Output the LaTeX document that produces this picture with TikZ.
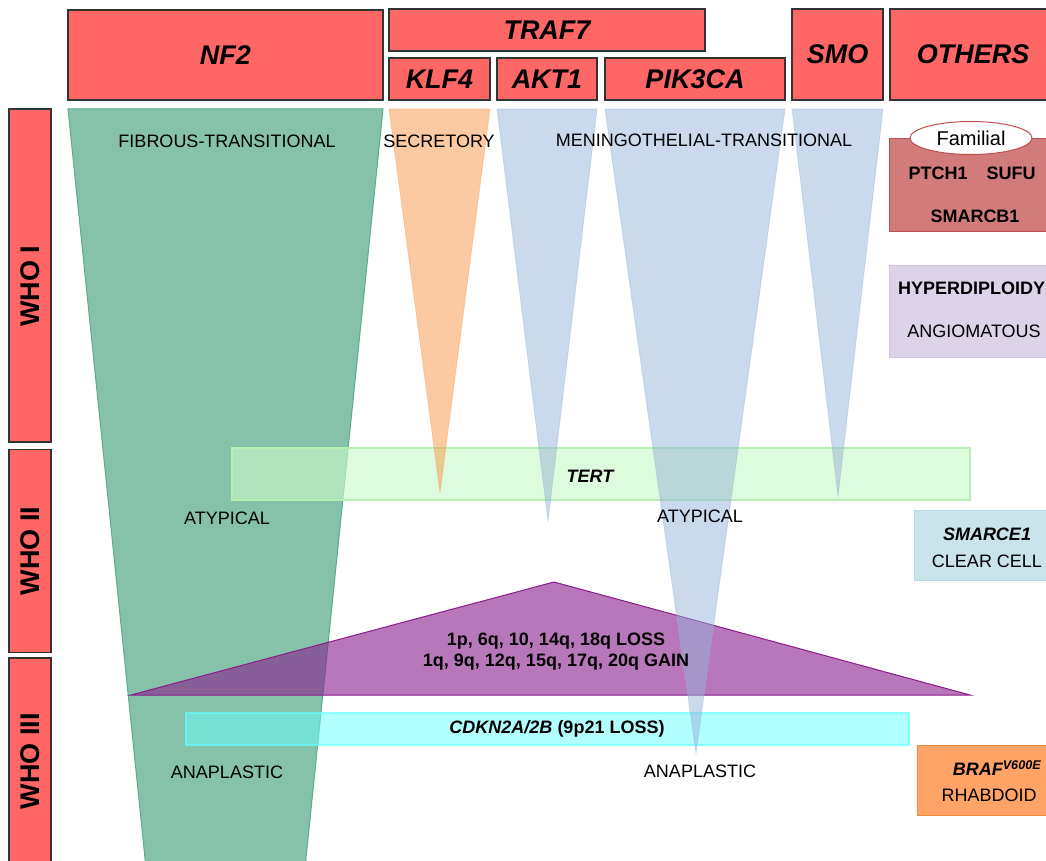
\documentclass[tikz,border=0pt]{standalone}
\usepackage{fontspec}
\setmainfont{Liberation Sans}
\usetikzlibrary{shapes.geometric}

\definecolor{genered}{HTML}{FF6666}
\definecolor{fibgreen}{HTML}{86C1AA}
\definecolor{fibline}{HTML}{5AAE8C}
\definecolor{tertfill}{HTML}{C9FAC9}
\definecolor{tertline}{HTML}{B4F0B4}
\definecolor{cnvfill}{HTML}{891C8C}
\definecolor{cnvline}{HTML}{8B1A8B}
\definecolor{cdkfill}{HTML}{66FFFF}
\definecolor{klffill}{HTML}{F79646}
\definecolor{aktfill}{HTML}{95B3D7}
\definecolor{famfill}{HTML}{D27B7B}
\definecolor{famline}{HTML}{C0504D}
\definecolor{hypfill}{HTML}{DCD3E8}
\definecolor{hypline}{HTML}{CEC4DE}
\definecolor{clearfill}{HTML}{C8E3EA}
\definecolor{clearline}{HTML}{B8DAE4}
\definecolor{braffill}{HTML}{FFA366}
\definecolor{brafline}{HTML}{F08A3C}

\tikzset{
  gene/.style={draw=black!80, fill=genered, line width=1.2pt, inner sep=0pt,
    font=\fontsize{27}{30}\selectfont\bfseries\itshape},
  grade/.style={gene, rotate=90, font=\fontsize{27}{30}\selectfont\bfseries},
  lbl/.style={inner sep=0pt, font=\fontsize{18}{21}\selectfont},
  blbl/.style={inner sep=0pt, font=\fontsize{18}{21}\selectfont\bfseries},
  cone/.style={fill opacity=0.5, draw opacity=0.4, line width=0.8pt},
}

\begin{document}
\begin{tikzpicture}[x=1pt, y=-1pt]
    \useasboundingbox (0,0) rectangle (1046,861);

    \draw [fill=fibgreen, draw=fibline, line width=1pt] (68,109) -- (383,109) -- (305,868) -- (146,868) -- cycle;
    \draw [fill=tertfill, draw=tertline, fill opacity=0.63, line width=1.2pt] (232,448) rectangle (970,500);
    \draw [fill=cnvfill, draw=cnvline, fill opacity=0.6, line width=1pt] (554,582) -- (970,695) -- (131,695) -- cycle;
    \draw [fill=cdkfill, draw=cdkfill, fill opacity=0.5, draw opacity=0.7, line width=1.2pt] (186,713) rectangle (909,745);

    \draw [cone, fill=klffill, draw=klffill] (389,109) -- (490,109) -- (440,492) -- cycle;
    \draw [cone, fill=aktfill, draw=aktfill] (497,109) -- (597,109) -- (548,521) -- cycle;
    \draw [cone, fill=aktfill, draw=aktfill] (605,109) -- (785,109) -- (696,753) -- cycle;
    \draw [cone, fill=aktfill, draw=aktfill] (792,109) -- (883,109) -- (838,496) -- cycle;

    \node (nf2) at (225.5,55) [gene, minimum width=315pt, minimum height=90pt] {NF2};
    \node (traf7) at (547,30) [gene, minimum width=316pt, minimum height=42pt] {TRAF7};
    \node (klf4) at (439.5,79) [gene, minimum width=101pt, minimum height=42pt] {KLF4};
    \node (akt1) at (547,79) [gene, minimum width=100pt, minimum height=42pt] {AKT1};
    \node (pik3ca) at (695,79) [gene, minimum width=180pt, minimum height=42pt] {PIK3CA};
    \node (smo) at (837.5,54.5) [gene, minimum width=91pt, minimum height=91pt] {SMO};
    \node (others) at (973,54.5) [gene, minimum width=166pt, minimum height=91pt] {OTHERS};

    \draw [fill=genered, draw=black!80, line width=1.2pt] (9,109) rectangle (51,442);
    \node (who1) at (30,286) [grade, draw=none, fill=none] {WHO I};
    \node (who2) at (30,551) [grade, minimum width=203pt, minimum height=42pt] {WHO II};
    \node (who3) at (30,761) [grade, minimum width=206pt, minimum height=42pt] {WHO III};

    \node (fibrous) at (227,141) [lbl] {FIBROUS-TRANSITIONAL};
    \node (secretory) at (439,141) [lbl] {SECRETORY};
    \node (meningo) at (704,140) [lbl] {MENINGOTHELIAL-TRANSITIONAL};
    \node (atyp1) at (227,518) [lbl] {ATYPICAL};
    \node (atyp2) at (700,516) [lbl] {ATYPICAL};
    \node (anapl1) at (227,772) [lbl] {ANAPLASTIC};
    \node (anapl2) at (700,771) [lbl] {ANAPLASTIC};

    \node (tert) at (590,476) [blbl] {\itshape TERT};
    \node (loss) at (556,641) [blbl] {1p, 6q, 10, 14q, 18q LOSS};
    \node (gain) at (556,662) [blbl] {1q, 9q, 12q, 15q, 17q, 20q GAIN};
    \node (cdkn) at (557,729) [blbl] {\itshape CDKN2A/2B\upshape{} (9p21 LOSS)};

    \draw [fill=famfill, draw=famline, line width=1pt] (889,139) rectangle (1056,231);
    \node (familial) at (971,138) [ellipse, draw=famline, fill=white, line width=1pt, minimum width=122pt, minimum height=33pt, inner sep=0pt, font=\fontsize{20}{24}\selectfont] {Familial};
    \node (ptch1) at (938,173) [blbl] {PTCH1};
    \node (sufu) at (1011,173) [blbl] {SUFU};
    \node (smarcb1) at (975,216) [blbl] {SMARCB1};

    \draw [fill=hypfill, draw=hypline, line width=1pt] (889,265) rectangle (1056,357);
    \node (hyper) at (898,288) [blbl, anchor=west] {HYPERDIPLOIDY};
    \node (angio) at (974,331) [lbl] {ANGIOMATOUS};

    \draw [fill=clearfill, draw=clearline, line width=1pt] (914,510) rectangle (1056,580);
    \node (smarce1) at (987,534) [blbl] {\itshape SMARCE1};
    \node (clear) at (987,561) [lbl] {CLEAR CELL};

    \draw [fill=braffill, draw=brafline, line width=1pt] (917,745) rectangle (1056,815);
    \node (braf) at (997,768) [blbl] {\itshape BRAF\textsuperscript{V600E}};
    \node (rhabdoid) at (989,795) [lbl] {RHABDOID};
\end{tikzpicture}
\end{document}
